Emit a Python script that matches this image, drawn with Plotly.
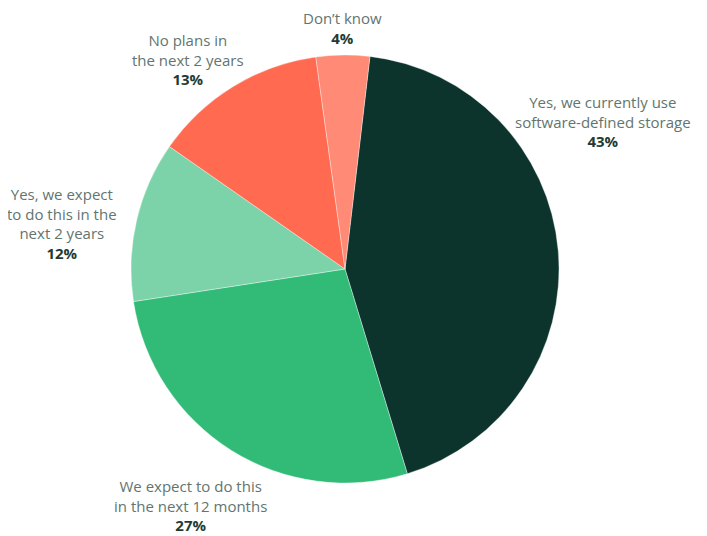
import math
import plotly.graph_objects as go

labels = [
    "Yes, we currently use<br>software-defined storage",
    "We expect to do this<br>in the next 12 months",
    "Yes, we expect<br>to do this in the<br>next 2 years",
    "No plans in<br>the next 2 years",
    "Don\u2019t know",
]
values = [43, 27, 12, 13, 4]
colors = ["#0c342c", "#31bb76", "#7dd3a9", "#ff6a50", "#ff8a75"]

# label placement style: angle offset (deg) from slice middle, distance from centre (px)
label_angle_offset = [-24.6, 1.0, -3.9, -5.3, 0.0]
label_radius = [297, 283, 287, 262, 241]

# page body has an 8px margin, so the figure is drawn 8px smaller and offset
W, H = 699, 528
rotation = 6.7
cx, cy, R = 337, 261, 214

fig = go.Figure(go.Pie(
    labels=labels,
    values=values,
    sort=False,
    direction="clockwise",
    rotation=rotation,
    marker=dict(colors=colors, line=dict(color="rgba(255,255,255,0.6)", width=0.6)),
    textinfo="none",
    hoverinfo="label+value",
    showlegend=False,
    domain=dict(x=[(cx - R) / W, (cx + R) / W], y=[1 - (cy + R) / H, 1 - (cy - R) / H]),
))

total = sum(values)
cum = 0.0
annotations = []
for lab, v, off, rad in zip(labels, values, label_angle_offset, label_radius):
    mid = rotation + (cum + v / 2) / total * 360
    cum += v
    a = math.radians(mid + off)
    px = cx + rad * math.sin(a)
    py = cy - rad * math.cos(a)
    annotations.append(dict(
        x=px / W, y=1 - py / H, xref="paper", yref="paper",
        xanchor="center", yanchor="middle", showarrow=False,
        align="center",
        text=f"<span style='color:#62756f'>{lab}</span><br><b>{v}%</b>",
        font=dict(family="Open Sans, sans-serif", size=15, color="#1e3b34"),
    ))

fig.update_layout(
    width=W, height=H,
    margin=dict(l=0, r=0, t=0, b=0),
    paper_bgcolor="white",
    plot_bgcolor="white",
    annotations=annotations,
)
fig.write_html("out.html")
